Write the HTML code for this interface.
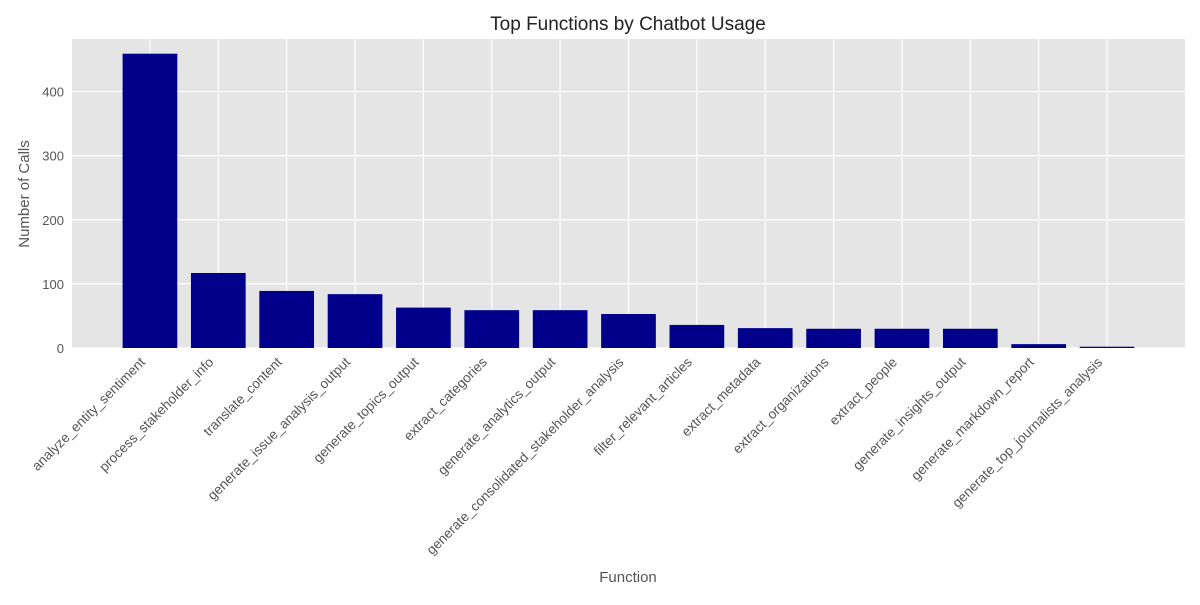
<!DOCTYPE html>
<html><head><meta charset="utf-8"><style>
body{margin:0;background:#fff;}
svg text{font-family:"Liberation Sans","DejaVu Sans",sans-serif;}
</style></head><body>
<svg id="chart" width="1200" height="600" xmlns="http://www.w3.org/2000/svg">
<rect width="1200" height="600" fill="#fff"/>
<text x="628" y="30" text-anchor="middle" font-size="19" fill="#222">Top Functions by Chatbot Usage</text>
<rect x="72" y="39" width="1113" height="309" fill="#e5e5e5"/>
<g id="grid"></g><g id="bars"></g><g id="ticks"></g>
<text x="628" y="582" text-anchor="middle" font-size="15" fill="#555">Function</text>
<text transform="translate(29,194) rotate(-90)" text-anchor="middle" font-size="15" fill="#555">Number of Calls</text>
</svg>
<script>
const categories=["analyze_entity_sentiment","process_stakeholder_info","translate_content","generate_issue_analysis_output","generate_topics_output","extract_categories","generate_analytics_output","generate_consolidated_stakeholder_analysis","filter_relevant_articles","extract_metadata","extract_organizations","extract_people","generate_insights_output","generate_markdown_report","generate_top_journalists_analysis"];
const values=[459,117,89,84,63,59,59,53,36,31,30,30,30,6,2];
const yTicks=[0,100,200,300,400];
const NS="http://www.w3.org/2000/svg";
const x0=72,x1=1185,yTop=39,yBot=348;
const n=categories.length;
const xmin=-0.4-0.05*(n-1+0.8),xmax=n-1+0.4+0.05*(n-1+0.8);
const ymax=Math.max(...values)*1.05;
const xs=v=>x0+(v-xmin)/(xmax-xmin)*(x1-x0);
const ys=v=>yBot-v/ymax*(yBot-yTop);
function mk(t,a,p){const e=document.createElementNS(NS,t);for(const k in a)e.setAttribute(k,a[k]);p.appendChild(e);return e;}
const grid=document.getElementById('grid'),bars=document.getElementById('bars'),ticks=document.getElementById('ticks');
yTicks.forEach(t=>{
 const l=mk('line',{x1:x0,x2:x1,y1:ys(t),y2:ys(t),stroke:'#fff','stroke-width':1.2},grid);
 
 
 const tx=mk('text',{x:x0-8,y:ys(t)+5,'text-anchor':'end','font-size':13,fill:'#555'},ticks);
 tx.textContent=t;
 
 
});
categories.forEach((c,i)=>{
 const cx=xs(i);
 const g=mk('line',{x1:cx,x2:cx,y1:yTop,y2:yBot,stroke:'#fff','stroke-width':1.2},grid);
 
 
 const w=xs(0.8)-xs(0);
 const r=mk('rect',{x:cx-w/2,y:ys(values[i]),width:w,height:yBot-ys(values[i]),fill:'#00008b'},bars);
 
 
 const t=mk('text',{transform:`translate(${cx-4},${yBot+15}) rotate(-45)`,'text-anchor':'end','font-size':13.6,fill:'#555'},ticks);
 t.textContent=c;
 
 
});
</script>
</body></html>
